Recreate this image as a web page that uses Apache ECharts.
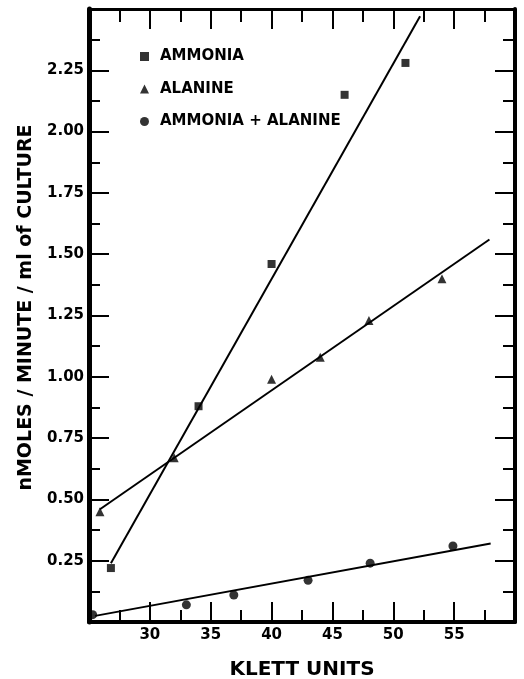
<!DOCTYPE html>
<html><head><meta charset="utf-8">
<script src="https://cdn.jsdelivr.net/npm/echarts@6/dist/echarts.min.js"></script>
<style>html,body{margin:0;padding:0;background:#fff}#c{width:524px;height:679px}</style>
</head><body><div id="c"></div>
<script>
// Data
const seriesNames = ['AMMONIA', 'ALANINE', 'AMMONIA + ALANINE'];
const ammonia = [[26.8, 0.22], [34.0, 0.88], [40.0, 1.46], [46.0, 2.15], [51.0, 2.28]];
const alanine = [[25.9, 0.45], [32.0, 0.67], [40.0, 0.99], [44.0, 1.08], [48.0, 1.23], [54.0, 1.40]];
const ammoniaAlanine = [[25.3, 0.03], [33.0, 0.07], [36.9, 0.11], [43.0, 0.17], [48.1, 0.24], [54.9, 0.31]];
// Hand-drawn fit lines (endpoints)
const ammoniaFit = [[26.8, 0.24], [52.2, 2.47]];
const alanineFit = [[25.9, 0.46], [57.9, 1.56]];
const ammoniaAlanineFit = [[25.5, 0.025], [58.0, 0.32]];
// Axis settings
const xMin = 25, xMax = 60, xStep = 5;
const yMin = 0, yMax = 2.5, yStep = 0.25;
const xTitle = 'KLETT UNITS';
const yTitle = 'nMOLES / MINUTE / ml of CULTURE';

const INK = '#000';
const FONT = 'DejaVu Sans';
const chart = echarts.init(document.getElementById('c'), null, {renderer: 'canvas'});

function frameAxis(pos, lineW, majorLen, minorLen, showLabels, extra) {
  return Object.assign({
    type: 'value',
    position: pos,
    axisLine: {show: true, onZero: false, lineStyle: {color: INK, width: lineW}},
    axisTick: {show: true, inside: true, length: majorLen, lineStyle: {color: INK, width: 2}},
    minorTick: {show: true, splitNumber: 2, length: minorLen, lineStyle: {color: INK, width: 2}},
    splitLine: {show: false},
    minorSplitLine: {show: false},
    axisLabel: {show: showLabels, showMinLabel: false, showMaxLabel: false,
      color: INK, fontFamily: FONT, fontWeight: 'bold', fontSize: 15}
  }, extra);
}

const option = {
  animation: false,
  backgroundColor: '#fff',
  grid: {left: 89, right: 9, top: 9, bottom: 57, containLabel: false, outerBoundsMode: 'none'},
  xAxis: [
    frameAxis('bottom', 4, 20, 12, true, {
      min: xMin, max: xMax, interval: xStep,
      name: xTitle, nameLocation: 'middle', nameGap: 38,
      nameTextStyle: {color: INK, fontFamily: FONT, fontWeight: 'bold', fontSize: 20},
      axisLabel: {show: true, showMinLabel: false, showMaxLabel: false, margin: 6,
        color: INK, fontFamily: FONT, fontWeight: 'bold', fontSize: 15}
    }),
    frameAxis('top', 3, 20, 13, false, {min: xMin, max: xMax, interval: xStep})
  ],
  yAxis: [
    frameAxis('left', 5, 20, 11, true, {
      min: yMin, max: yMax, interval: yStep,
      name: yTitle, nameLocation: 'middle', nameGap: 53,
      nameTextStyle: {color: INK, fontFamily: FONT, fontWeight: 'bold', fontSize: 19, padding: [0, 0, 0, 16]},
      axisLabel: {show: true, showMinLabel: false, showMaxLabel: false, margin: 5,
        color: INK, fontFamily: FONT, fontWeight: 'bold', fontSize: 15,
        formatter: v => v.toFixed(2)}
    }),
    frameAxis('right', 4, 20, 12, false, {min: yMin, max: yMax, interval: yStep})
  ],
  legend: {
    orient: 'vertical', left: 135, top: 44,
    itemWidth: 9, itemHeight: 9, itemGap: 17.5,
    textStyle: {color: INK, fontFamily: FONT, fontWeight: 'bold', fontSize: 15, padding: [0, 0, 0, 6]},
    data: [
      {name: seriesNames[0], icon: 'rect'},
      {name: seriesNames[1], icon: 'triangle'},
      {name: seriesNames[2], icon: 'circle'}
    ]
  },
  series: [
    {type: 'line', name: 'fit1', data: ammoniaFit, symbol: 'none', silent: true,
      lineStyle: {color: INK, width: 2}, z: 2},
    {type: 'line', name: 'fit2', data: alanineFit, symbol: 'none', silent: true,
      lineStyle: {color: INK, width: 2}, z: 2},
    {type: 'line', name: 'fit3', data: ammoniaAlanineFit, symbol: 'none', silent: true,
      lineStyle: {color: INK, width: 2}, z: 2},
    {type: 'scatter', name: seriesNames[0], data: ammonia, symbol: 'rect', symbolSize: 8,
      itemStyle: {color: INK}, z: 3},
    {type: 'scatter', name: seriesNames[1], data: alanine, symbol: 'triangle', symbolSize: 9,
      itemStyle: {color: INK}, z: 3},
    {type: 'scatter', name: seriesNames[2], data: ammoniaAlanine, symbol: 'circle', symbolSize: 9,
      itemStyle: {color: INK}, z: 3}
  ]
};
chart.setOption(option);
</script>
</body></html>
